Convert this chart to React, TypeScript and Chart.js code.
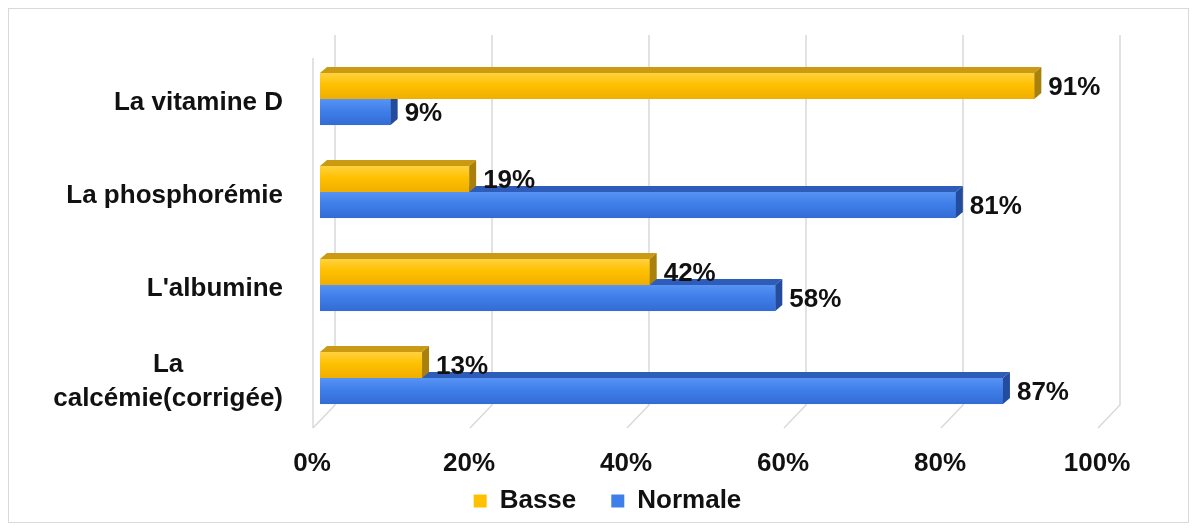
import React, { useEffect, useRef } from "react";
import { Chart, registerables } from "chart.js";

Chart.register(...registerables);

const categories: string[][] = [
  ["La vitamine D"],
  ["La phosphorémie"],
  ["L'albumine"],
  ["La", "calcémie(corrigée)"],
];
const seriesNames = ["Basse", "Normale"];
const basse = [91, 19, 42, 13];
const normale = [9, 81, 58, 87];
const xMin = 0;
const xMax = 100;
const xStep = 20;

const FONT = "'Liberation Sans', Arial, sans-serif";
const DEPTH_X = 7;
const DEPTH_Y = 6;

const faceColors = [
  { front: ["#FFD23F", "#FFC000", "#F0AE00"], top: "#C99A12", side: "#A9800C" },
  { front: ["#5893F4", "#3F7FEA", "#336BD3"], top: "#2D5DB9", side: "#244C9E" },
];

const threeDPlugin = {
  id: "threeD",
  beforeDatasetsDraw(chart: any) {
    const { ctx, chartArea } = chart;
    const xs = chart.scales.x;
    ctx.save();
    ctx.strokeStyle = "#d9d9d9";
    ctx.lineWidth = 1.5;
    for (let v = xMin; v <= xMax; v += xStep) {
      const p = xs.getPixelForValue(v);
      const bx = p + 15;
      const fx = p - 7;
      ctx.beginPath();
      ctx.moveTo(bx, chartArea.top - 17.5);
      ctx.lineTo(bx, chartArea.bottom - 19.5);
      ctx.lineTo(fx, chartArea.bottom + 3.5);
      ctx.stroke();
    }
    const f0 = xs.getPixelForValue(xMin) - 7;
    ctx.beginPath();
    ctx.moveTo(f0, chartArea.top + 5.5);
    ctx.lineTo(f0, chartArea.bottom + 3.5);
    ctx.stroke();
    ctx.restore();
  },
  afterDatasetDraw(chart: any, args: any) {
    const { ctx } = chart;
    const di = args.index;
    const meta = chart.getDatasetMeta(di);
    const col = faceColors[di];
    ctx.save();
    meta.data.forEach((el: any) => {
      const { x, y, base, height } = el.getProps(["x", "y", "base", "height"], true);
      const top = y - height / 2;
      const bottom = y + height / 2;
      const g = ctx.createLinearGradient(0, top, 0, bottom);
      g.addColorStop(0, col.front[0]);
      g.addColorStop(0.45, col.front[1]);
      g.addColorStop(1, col.front[2]);
      ctx.fillStyle = g;
      ctx.fillRect(base, top, x - base, height);
      ctx.fillStyle = col.top;
      ctx.beginPath();
      ctx.moveTo(base, top);
      ctx.lineTo(base + DEPTH_X, top - DEPTH_Y);
      ctx.lineTo(x + DEPTH_X, top - DEPTH_Y);
      ctx.lineTo(x, top);
      ctx.closePath();
      ctx.fill();
      ctx.fillStyle = col.side;
      ctx.beginPath();
      ctx.moveTo(x, top);
      ctx.lineTo(x + DEPTH_X, top - DEPTH_Y);
      ctx.lineTo(x + DEPTH_X, bottom - DEPTH_Y);
      ctx.lineTo(x, bottom);
      ctx.closePath();
      ctx.fill();
    });
    ctx.restore();
  },
  afterDatasetsDraw(chart: any) {
    const { ctx } = chart;
    ctx.save();
    ctx.font = `bold 26px ${FONT}`;
    ctx.fillStyle = "#111111";
    ctx.textAlign = "left";
    ctx.textBaseline = "middle";
    chart.data.datasets.forEach((ds: any, di: number) => {
      const meta = chart.getDatasetMeta(di);
      meta.data.forEach((el: any, i: number) => {
        const { x, y } = el.getProps(["x", "y"], true);
        ctx.fillText(ds.data[i] + "%", x + DEPTH_X + 7, y + 2);
      });
    });
    const ys = chart.scales.y;
    const rightEdge = 274;
    const lineH = 34;
    categories.forEach((lines, i) => {
      const cy = ys.getPixelForValue(i) + 4;
      const widths = lines.map((l) => ctx.measureText(l).width);
      const bw = Math.max(...widths);
      const cx = rightEdge - bw / 2;
      ctx.textAlign = "center";
      lines.forEach((l, li) => {
        const ly = cy + (li - (lines.length - 1) / 2) * lineH;
        ctx.fillText(l, cx, ly);
      });
    });
    ctx.restore();
  },
};

export default function App() {
  const ref = useRef<HTMLCanvasElement | null>(null);
  useEffect(() => {
    if (!ref.current) return;
    const chart = new Chart(ref.current, {
      type: "bar",
      data: {
        labels: categories,
        datasets: [
          {
            label: seriesNames[0],
            data: basse,
            backgroundColor: "#FFC000",
            borderWidth: 0,
            categoryPercentage: 0.56,
            barPercentage: 1,
          },
          {
            label: seriesNames[1],
            data: normale,
            backgroundColor: "#3F7FEA",
            borderWidth: 0,
            categoryPercentage: 0.56,
            barPercentage: 1,
          },
        ],
      },
      options: {
        indexAxis: "y",
        animation: false,
        responsive: true,
        maintainAspectRatio: false,
        layout: { padding: { top: 43.5, right: 83, bottom: -2, left: 101 } },
        scales: {
          x: {
            min: xMin,
            max: xMax,
            grid: { display: false, drawTicks: false },
            border: { display: false },
            ticks: {
              stepSize: xStep,
              mirror: true,
              padding: -55,
              labelOffset: -8,
              color: "#111111",
              font: { family: FONT, size: 26, weight: "bold" },
              callback: (v: any) => v + "%",
            },
            afterFit: (s: any) => {
              s.height = 28.5;
            },
          },
          y: {
            grid: { display: false, drawTicks: false },
            border: { display: false },
            ticks: { display: false },
            afterFit: (s: any) => {
              s.width = 210;
            },
          },
        },
        plugins: {
          legend: {
            position: "bottom",
            labels: {
              boxWidth: 13,
              boxHeight: 13,
              padding: 35,
              color: "#111111",
              font: { family: FONT, size: 26, weight: "bold" },
            },
          },
          tooltip: { enabled: false },
        },
      },
      plugins: [threeDPlugin],
    } as any);
    return () => chart.destroy();
  }, []);
  return (
    <div
      style={{
        width: 1181,
        height: 515,
        border: "1px solid #d9d9d9",
        boxSizing: "border-box",
        background: "#fff",
      }}
    >
      <div style={{ position: "relative", width: 1179, height: 513 }}>
        <canvas ref={ref} />
      </div>
    </div>
  );
}
